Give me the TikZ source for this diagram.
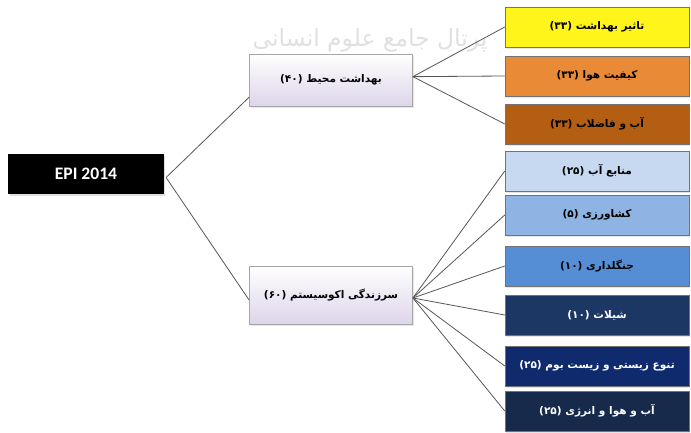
\documentclass[tikz,border=0pt]{standalone}
\usepackage{fontspec}
\usepackage{xcolor}
\usepackage{tikz}
\usetikzlibrary{positioning,shadows}
\TeXXeTstate=1
\newfontfamily\arabicfont[Script=Arabic]{DejaVu Sans}
\newfontfamily\epifont{Carlito}
\definecolor{hubfill}{HTML}{DDD5EA}
\definecolor{impactfill}{HTML}{FFF51A}
\definecolor{airfill}{HTML}{E98A36}
\definecolor{waterfill}{HTML}{B35E12}
\definecolor{resfill}{HTML}{C6D9F1}
\definecolor{agrifill}{HTML}{8EB4E3}
\definecolor{forestfill}{HTML}{558ED5}
\definecolor{fishfill}{HTML}{1C3763}
\definecolor{biofill}{HTML}{102A6E}
\definecolor{climfill}{HTML}{172A4C}
\newcommand{\fa}[1]{{\arabicfont\beginR #1\endR}}

\begin{document}
\begin{tikzpicture}[x=0.03cm, y=-0.03cm,
  root/.style={fill=black, text=white, minimum width=4.65cm, minimum height=1.2cm, font=\epifont\bfseries\fontsize{15}{18}\selectfont, drop shadow={shadow xshift=1pt, shadow yshift=-1.5pt, opacity=0.25}},
  hub/.style={draw=black!35, top color=white, bottom color=hubfill, minimum width=4.9cm, minimum height=1.56cm, font=\fontsize{9}{11}\selectfont\bfseries, drop shadow={shadow xshift=1pt, shadow yshift=-1.5pt, opacity=0.2}},
  leaf/.style={draw=black!55, minimum width=5.52cm, minimum height=1.2cm, font=\fontsize{9}{11}\selectfont\bfseries, drop shadow={shadow xshift=1pt, shadow yshift=-1.5pt, opacity=0.2}},
  link/.style={draw=black!65, line width=0.7pt}
]
  \useasboundingbox (0,0) rectangle (691,433);
  \node[text=black!12, font=\arabicfont\fontsize{20}{24}\selectfont] (mark) at (370,40) {\beginR پرتال جامع علوم انسانی\endR};

  \node[root] (epi) at (86,174) {EPI 2014};
  \node[hub] (health) at (331,80) {\fa{بهداشت محیط (۴۰)}};
  \node[hub, minimum height=1.74cm] (eco) at (331,295) {\fa{سرزندگی اکوسیستم (۶۰)}};

  % environmental health
  \node[leaf, fill=impactfill] (impact) at (597,27) {\fa{تاثیر بهداشت (۳۳)}};
  \node[leaf, fill=airfill] (air) at (597,76) {\fa{کیفیت هوا (۳۳)}};
  \node[leaf, fill=waterfill] (water) at (597,124) {\fa{آب و فاضلاب (۳۳)}};

  % ecosystem vitality
  \node[leaf, fill=resfill] (res) at (597,171) {\fa{منابع آب (۲۵)}};
  \node[leaf, fill=agrifill] (agri) at (597,215) {\fa{کشاورزی (۵)}};
  \node[leaf, fill=forestfill] (forest) at (597,266) {\fa{جنگلداری (۱۰)}};
  \node[leaf, fill=fishfill, text=white] (fish) at (597,315) {\fa{شیلات (۱۰)}};
  \node[leaf, fill=biofill, text=white] (bio) at (597,366) {\fa{تنوع زیستی و زیست بوم (۲۵)}};
  \node[leaf, fill=climfill, text=white] (clim) at (597,411) {\fa{آب و هوا و انرژی (۲۵)}};

  \draw[link] ([xshift=2pt,yshift=-3pt]epi.east) -- ([yshift=0.27cm]health.south west);
  \draw[link] ([xshift=2pt,yshift=-3pt]epi.east) -- ([yshift=-0.15cm]eco.west);
  \foreach \n in {impact,air,water}
    \draw[link] ([yshift=0.1cm]health.east) -- (\n.west);
  \foreach \n in {res,agri,forest,fish,bio,clim}
    \draw[link] ([yshift=-0.09cm]eco.east) -- (\n.west);
\end{tikzpicture}
\end{document}
